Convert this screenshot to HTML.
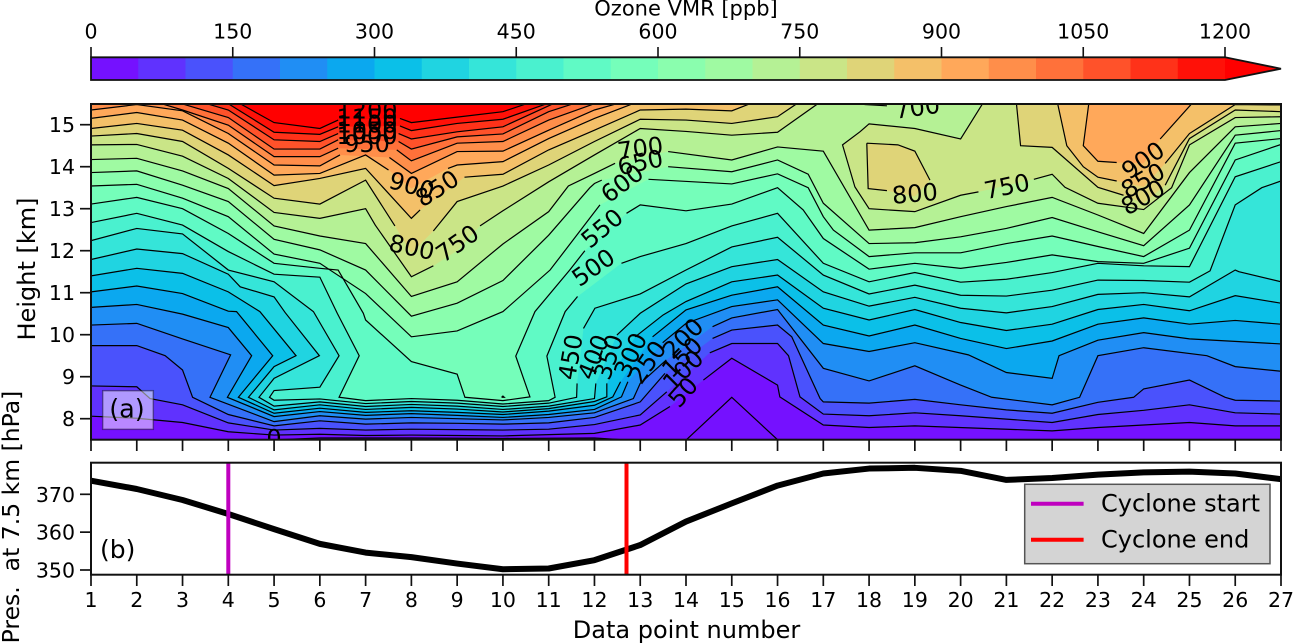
<!DOCTYPE html>
<html lang="en">
<head>
<meta charset="utf-8">
<title>Ozone VMR cross-section</title>
<style>
html,body{margin:0;padding:0;background:#fff;width:1295px;height:644px;overflow:hidden}
svg{display:block;font-family:"DejaVu Sans","Liberation Sans",sans-serif}
</style>
</head>
<body>
<svg id="chart" xmlns="http://www.w3.org/2000/svg" width="1295" height="644" viewBox="0 0 1295 644">
  <defs>
    <clipPath id="clipA"><rect x="91" y="104" width="1190" height="335.7"/></clipPath>
    <clipPath id="clipB"><rect x="91" y="462.7" width="1190" height="112"/></clipPath>
  </defs>
  <g id="colorbar"></g>
  <text x="686" y="15.5" font-size="21" text-anchor="middle">Ozone VMR [ppb]</text>
  <g id="fills" clip-path="url(#clipA)"></g>
  <g id="lines" clip-path="url(#clipA)"></g>
  <g id="clabels" clip-path="url(#clipA)"></g>
  <rect x="91" y="104" width="1190" height="335.7" fill="none" stroke="#111" stroke-width="2"/>
  <g id="axisA"></g>
  <rect x="102.7" y="390.7" width="50.6" height="38.6" fill="#fff" fill-opacity="0.5" stroke="#000" stroke-opacity="0.4" stroke-width="1.5"/>
  <text x="127" y="417.5" font-size="25.5" text-anchor="middle">(a)</text>
  <text transform="translate(35,269) rotate(-90)" font-size="24" text-anchor="middle">Height [km]</text>
  <g id="panelB" clip-path="url(#clipB)"></g>
  <rect x="91" y="462.7" width="1190" height="112" fill="none" stroke="#111" stroke-width="2"/>
  <g id="axisB"></g>
  <text x="100" y="558" font-size="25">(b)</text>
  <text transform="translate(19,517) rotate(-90)" font-size="23.5" text-anchor="middle" xml:space="preserve">Pres.  at 7.5 km [hPa]</text>
  <text x="686.5" y="638" font-size="24" text-anchor="middle">Data point number</text>
  <g>
    <rect x="1024.7" y="484.3" width="245.3" height="79.4" fill="#d4d4d4" stroke="#555" stroke-width="1.5"/>
    <line x1="1031" x2="1083.6" y1="503.7" y2="503.7" stroke="#bf00bf" stroke-width="4"/>
    <text x="1101" y="511.7" font-size="24">Cyclone start</text>
    <line x1="1031" x2="1083.6" y1="539.7" y2="539.7" stroke="#ff0000" stroke-width="4"/>
    <text x="1101" y="547.3" font-size="24">Cyclone end</text>
  </g>
</svg>
<script>
// ---- data: contour curves as [data point, height km]; null = pen-up (label gap) ----
const c0 = [[5.1,7.5],[6,7.54],[8,7.54],[10,7.53],[12,7.54],[12.6,7.5],null,[14.01,7.5],[15,8.51],[16,7.5]];
const c50 = [[1,8.06],[2,8.01],[3,7.91],[4,7.69],[5,7.61],[6,7.63],[7,7.6],[8,7.61],[9,7.6],[10,7.59],[11,7.62],[12,7.65],[13,7.85],[13.65,8.29],null,[14.38,8.92],[15,9.44],[16,8.8],[16.05,8.52],[17,7.85],[18,7.79],[19,7.83],[22,7.71],[23,7.79],[24,7.85],[25,7.91],[26,7.83],[27,7.83]];
const c100 = [[1,8.78],[2,8.76],[2.29,8.48],[3,8.33],[4,7.9],[5,7.73],[6,7.77],[7,7.73],[8,7.75],[9,7.74],[10,7.73],[11,7.75],[12,7.86],[13,8.09],[13.58,8.64],null,[14.52,9.57],[15,9.79],[16,9.79],[16.24,9.5],[16.49,8.52],[17,8.11],[18,8.07],[19,8.14],[20,8.07],[21,7.99],[22,7.91],[23,8.1],[24,8.2],[25,8.33],[26,8.14],[27,8.11]];
const c150 = [[1,9.74],[2,9.74],[2.62,9.5],[3,9.16],[3.22,8.51],[4,8.1],[5,7.83],[6,7.95],[7,7.87],[8,7.9],[9,7.89],[10,7.87],[11,7.9],[12,8.03],[13,8.4],[13.54,9.08],null,[14.58,9.91],[15,10.11],[16,10.23],[16.31,9.95],[16.93,8.48],[17,8.4],[18,8.37],[19,8.46],[20,8.33],[21,8.21],[22,8.13],[23,8.39],[23.78,8.51],[24,8.71],[25,8.92],[25.78,8.51],[26,8.44],[27,8.42]];
const c200 = [[1,10.23],[2,10.27],[3,9.9],[4.05,9.52],[3.6,8.51],[5,7.93],[6,8.07],[7,7.99],[8,8.03],[9,8],[10,7.97],[11,8.03],[12,8.14],[12.85,8.48],[13,8.84],[13.57,9.4],null,[14.58,10.19],[15,10.4],[16,10.6],[17,9.2],[18,8.9],[19,9.26],[20,8.8],[20.68,8.51],[22,8.33],[22.6,8.51],[23,9.5],[24,9.69],[25.38,9.5],[26,9.24],[27,9.13]];
const c250 = [[1,10.65],[2,10.72],[3,10.49],[4,10.17],[4.51,9.5],[3.98,8.51],[5,8.05],[6,8.17],[7,8.08],[8,8.12],[9,8.08],[10,8.03],[11,8.1],[12,8.22],[12.59,8.52],[12.73,8.88],null,[13.49,9.81],[14,10.27],[15,10.67],[16,10.83],[17,9.79],[18,9.6],[19,9.81],[20.17,9.52],[21,9.1],[22,8.96],[22.15,9.5],[23,9.87],[24,10.05],[25,9.9],[27,9.78]];
const c300 = [[1,11.02],[2,11.16],[3,10.98],[4,10.56],[4.18,10.55],[4.97,9.5],[4.22,8.51],[5,8.13],[6,8.25],[7,8.15],[8,8.19],[9,8.15],[10,8.1],[11,8.18],[12,8.32],[12.4,8.52],[12.57,8.88],null,[13.27,9.95],[14,10.59],[15,10.94],[16,11.14],[17,10.23],[18,9.97],[19,10.23],[20,9.91],[21,9.67],[22,9.85],[23,10.25],[24,10.4],[25,10.25],[26,10.34],[27,10.25]];
const c350 = [[1,11.4],[2,11.58],[3,11.46],[4,11.02],[4.69,10.55],[5.48,9.5],[5,9.24],[4.44,8.51],[5,8.21],[6,8.33],[7,8.22],[8,8.27],[9,8.23],[10,8.16],[11,8.24],[12,8.41],[12.27,8.52],[12.27,8.84],null,[12.89,9.95],[13.5,10.47],[14,10.79],[15,11.26],[16,11.42],[17,10.63],[18,10.35],[19,10.6],[20,10.29],[21,10.1],[22,10.25],[23,10.6],[24,10.72],[25,10.57],[26,10.93],[27,10.75]];
const c400 = [[1,11.79],[2,12.04],[3,11.93],[4,11.44],[4.26,11.14],[5,10.9],[5.24,10.53],[5.99,9.5],[5,8.96],[4.67,8.51],[5,8.3],[6,8.4],[7,8.29],[8,8.34],[9,8.3],[10,8.22],[11,8.3],[12,8.48],[12.03,8.84],null,[12.49,9.99],[13,10.51],[14,11.21],[15,11.62],[16,11.79],[17,11.02],[18,10.68],[19,10.89],[20,10.63],[21,10.52],[22,10.67],[23,10.96],[24,11],[25,10.9],[26,11.54],[26.08,11.5],[27,11.26]];
const c450 = [[1,12.24],[2,12.53],[3,12.4],[4,11.54],[5,11.26],[5.86,10.55],[6.42,9.5],[6,8.75],[5,8.67],[4.9,8.51],[5,8.44],[6,8.47],[7,8.36],[8,8.41],[9,8.37],[10,8.29],[11,8.37],[11.61,8.51],[11.62,8.84],null,[11.76,10.15],[12.01,10.63],[13,10.97],[14,11.54],[15,12.09],[16,12.32],[17,11.42],[18,10.97],[19,11.18],[20,10.94],[21,10.92],[22,11.06],[23,11.3],[24,11.29],[25,11.25],[25.45,11.52],[26,13.09],[26.58,13.5],[27,13.66]];
const c500 = [[1,12.67],[2,12.89],[3,12.61],[4,11.98],[5,11.44],[6,11.37],[6.38,10.51],[6.86,9.5],[6.42,8.51],[7,8.43],[8,8.48],[9,8.44],[10,8.35],[11,8.43],[11.14,8.51],[10.96,9.49],[11.36,10.55],[11.63,10.91],null,[12.59,11.7],[13,11.86],[14,12.17],[15,12.59],[16,12.89],[17,11.7],[18,11.26],[19,11.48],[20,11.25],[21,11.32],[22,11.48],[23,11.7],[24,11.64],[25,11.62],[26,13.76],[27,14.12]];
const c550 = [[1,13.11],[2,13.27],[3,13],[4,12.41],[5,11.7],[6,11.58],[6.4,11.54],[6.95,10.51],[7,10.35],[8,9.36],[9,9.06],[9.17,8.51],[10,8.43],[10.59,8.52],[10.28,9.49],[10.7,10.55],[11.46,11.54],[11.79,12],null,[12.7,12.89],[13,13.09],[14,12.95],[15,13.11],[16,13.5],[16.56,12.97],[17,12.29],[18,11.56],[19,11.7],[20,11.58],[21,11.72],[22,11.9],[23,11.74],[24,11.7],[25,12.06],[26,14.16],[27,14.53]];
const c600a = [[1,13.54],[2,13.58],[3,13.25],[4,12.81],[5,11.92],[6,11.7],[7,10.98],[8,9.95],[9,10.09],[10,10.55],[11.03,11.54],[12.12,13.09],null,[13.18,13.7],[15,13.59],[16,13.83],[16.67,13.5],[17,12.81],[17.22,12.49],[18,11.86],[19,11.95],[20,11.95],[21,12.17],[22,12.35],[23,12.1],[24,11.86],[25,12.49],[26,14.56],[27,14.67]];
const c600b = [[9.97,8.51],[10.03,8.51],[10,8.54],[9.97,8.51]];
const c650 = [[1,13.86],[2,13.9],[3,13.56],[4,13.17],[5,12.27],[6,12.02],[7,11.54],[8,10.44],[9,10.75],[10,11.29],[11,12.37],[11.9,13.5],[12,13.6],[12.16,13.68],null,[13.61,14],[15,13.88],[16,14.16],[16.67,13.82],[17,13.13],[18,12.17],[19,12.19],[20,12.33],[21,12.53],[22,12.79],[23,12.45],[24,12.12],[25,13.09],[26,14.75],[27,14.86]];
const c700a = [[1,14.17],[2,14.2],[3,13.9],[4,13.48],[5,12.59],[6,12.35],[7,12.17],[8,10.91],[9,11.26],[10,12.16],[11,12.93],[11.43,13.54],[12,13.84],[12.45,14.08],null,[13.61,14.36],[15,14.16],[16,14.47],[17,14.37],[18,12.49],[19,12.55],[20,12.81],[21,13.05],[22,13.27],[23,12.85],[24,12.41],[25,13.86],[26,14.95],[27,15.03]];
const c700b = [[17.9,15.48],[18.39,15.45]];
const c750a = [[1,14.52],[2,14.53],[3,14.25],[4,13.72],[5,12.91],[6,12.77],[7,13],[7.21,12.61],[8,11.38],[8.48,11.64],null,[9,12],null,[9.5,12.59],[10,12.95],[11,13.64],[12,14.28],[13,14.91],[14,14.84],[15,14.75],[16,14.82],[16.88,15.5]];
const c750b = [[20.48,15.5],[20,14.66],[19,14.91],[18,15.02],[17.8,14.83],[17.42,14.52],[17.69,13.52],[18,13],[19,12.93],[20,13.32],[20.39,13.4],null,[21.6,13.7],[22,13.82],[22.28,13.51],[23,13.13],[24,12.98],[24.61,13.5],[25,14.52],[26,15.17],[27,15.19]];
const c800a = [[1,14.73],[2,14.79],[3,14.6],[4,13.96],[5,13.25],[6,13.11],[7,13.68],[7.64,12.59],null,[8,11.94],null,[8.48,12.47],[9,13.17],[10,13.54],[11,14.04],[12,14.6],[13,15.13],[14,15.11],[15,15.03],[16,15.19],[16.42,15.5]];
const c800b = [[21.22,15.5],[21.31,14.5],[22,14.46],[23,13.51],[23.56,13.32],null,[24,13.13],null,[24.47,13.56],[25,14.67],[26,15.35],[27,15.31]];
const c800c = [[17.95,14.56],[18.63,14.52],[19,14.37],[19.33,13.68],null,[19,13.29],null,[18.39,13.43],[17.98,13.48],[17.95,14.56]];
const c850a = [[1,14.91],[2,15.03],[3,14.87],[4,14.28],[5,13.55],[6,13.72],[7,13.96],[8,12.77],[8.19,12.97],null,[9.16,13.75],[10,13.82],[11,14.4],[12,14.87],[13,15.35],[14,15.37],[15,15.33],[15.4,15.5]];
const c850b = [[22.12,15.5],[22.32,14.5],[22.68,14],[23,13.75],[23.41,13.66],null,[24,13.52],null,[24.47,14.08],[25,14.79],[26,15.48],[27,15.47]];
const c900a = [[1,15.15],[2,15.29],[3,15.11],[4,14.56],[5,13.8],[6,13.84],[7,14.28],[7.5,13.92],null,[8,13.48],null,[8.8,13.96],[9,14.04],[10,14.12],[11,14.67],[12,15.15],[12.84,15.5]];
const c900b = [[22.8,15.5],[22.68,14.5],[23,14.13],[23.41,14.1],null,[24,14.08],null,[24.36,14.66],[25.05,15.5]];
const c950 = [[1,15.35],[2,15.48],[3,15.33],[4,14.79],[5,14.04],[6,14.02],[6.44,14.28],null,[7.52,14.22],[8,13.84],[9,14.36],[10,14.37],[11,14.87],[12,15.35],[12.49,15.5]];
const c1000 = [[2.54,15.5],[3,15.35],[4,14.99],[5,14.24],[6,14.24],[6.4,14.44],null,[7.68,14.4],[8,14.14],[9,14.56],[10,14.6],[11,15.11],[12,15.5]];
const c1050 = [[2.98,15.5],[4,15.17],[5,14.42],[6,14.42],[6.4,14.64],null,[7.72,14.6],[8,14.42],[9,14.71],[10,14.78],[11,15.31],[11.54,15.5]];
const c1100 = [[3.53,15.5],[4,15.35],[5,14.64],[6,14.6],[6.4,14.79],null,[7.72,14.79],[8,14.66],[9,14.83],[10,14.95],[11.1,15.5]];
const c1150 = [[4,15.5],[5,14.82],[6,14.77],[6.4,14.95],null,[7.75,14.97],[8,14.86],[9,15.03],[10,15.13],[10.96,15.5]];
const c1200 = [[4.26,15.5],[5,15.05],[6,14.91],[6.4,15.11],null,[7.75,15.15],[8,15.05],[9,15.18],[10,15.31],[10.52,15.5]];

const fillLevels = [50,100,150,200,250,300,350,400,450,500,550,600,650,700,750,800,850,900,950,1000,1050,1100,1150,1200];
const fillCurves = [[c50],[c100],[c150],[c200],[c250],[c300],[c350],[c400],[c450],[c500],[c550],[c600a,c600b],[c650],[c700a],[c750a,c750b],[c800a,c800b,c800c],[c850a,c850b],[c900a,c900b],[c950],[c1000],[c1050],[c1100],[c1150],[c1200]];
const lineOnlyCurves = [c0,c700b];

const labelTexts = ["1200","1150","1100","1050","1000","950","900","850","800","750","700","650","600","550","500","450","400","350","300","250","200","150","100","50","700","800","750","900","850","800","0"];
const labelX = [7.03,7.03,7.03,7.03,7.03,7.03,8.01,8.56,8.01,9,13,13,12.6,12.16,11.97,11.47,11.97,12.3,12.78,13.15,13.93,13.91,13.93,13.93,19.05,19,21.01,23.98,23.98,23.98,5];
const labelH = [15.35,15.18,15.02,14.87,14.75,14.56,13.56,13.49,12.09,12.18,14.45,14.11,13.61,12.54,11.61,9.47,9.47,9.47,9.52,9.35,9.92,9.47,9.16,8.64,15.42,13.37,13.54,14.16,13.68,13.28,7.54];
const labelAngle = [0,0,0,0,0,0,15,-33,12,-35,-8,-12,-37,-40,-35,-80,-68,-72,-65,-55,-45,-45,-45,-48,-8,-5,-12,-35,-30,-30,0];

const pressure = [373.6,371.4,368.5,364.8,360.8,356.9,354.6,353.4,351.7,350.2,350.4,352.6,356.6,362.8,367.6,372.3,375.5,376.8,377,376.2,373.8,374.3,375.2,375.8,376,375.5,374];
const cycloneStart = 4;
const cycloneEnd = 12.7;
const xTickValues = [1,2,3,4,5,6,7,8,9,10,11,12,13,14,15,16,17,18,19,20,21,22,23,24,25,26,27];
const heightTicks = [8,9,10,11,12,13,14,15];
const pressureTicks = [350,360,370];
const colorbarTicks = [0,150,300,450,600,750,900,1050,1200];
const colorbarBounds = [0,50,100,150,200,250,300,350,400,450,500,550,600,650,700,750,800,850,900,950,1000,1050,1100,1150,1200];

// ---- axis functions ----
const sx = x => 91 + (x - 1) * 1190 / 26;
const sh = h => 124.7 + (15 - h) * 42;
const sp = p => 494.3 - (p - 370) * 3.785;
const cx = v => 91 + v * 0.945;

const NS = 'http://www.w3.org/2000/svg';
function mk(tag, parent) { const e = document.createElementNS(NS, tag); parent.appendChild(e); return e; }
function hex(v) { return Math.round(Math.min(1, Math.max(0, v)) * 255); }
function rainbow(t) {
  return 'rgb(' + hex(Math.abs(2 * t - 0.5)) + ',' + hex(Math.sin(Math.PI * t)) + ',' + hex(Math.cos(Math.PI * t / 2)) + ')';
}
const bandColor = lo => lo >= 1200 ? '#ff0000' : rainbow((lo + 25) / 1200);
const T = 15.5;

// ---- colorbar ----
const cbG = document.getElementById('colorbar');
for (let i = 0; i < colorbarBounds.length - 1; i++) {
  const r = mk('rect', cbG);
  
  
  r.setAttribute('x', cx(colorbarBounds[i]));
  r.setAttribute('y', 57.3);
  r.setAttribute('width', cx(colorbarBounds[i + 1]) - cx(colorbarBounds[i]) + 0.4);
  r.setAttribute('height', 22.7);
  r.setAttribute('fill', bandColor(colorbarBounds[i]));
}
const tri = mk('polygon', cbG);


tri.setAttribute('points', cx(1200) + ',57.3 1281,68.7 ' + cx(1200) + ',80');
tri.setAttribute('fill', '#ff0000');
const cbOut = mk('polygon', cbG);


cbOut.setAttribute('points', '91,57.3 ' + cx(1200) + ',57.3 1281,68.7 ' + cx(1200) + ',80 91,80');
cbOut.setAttribute('fill', 'none');
cbOut.setAttribute('stroke', '#111');
cbOut.setAttribute('stroke-width', '1.8');
colorbarTicks.forEach(v => {
  const l = mk('line', cbG);
  
  
  l.setAttribute('x1', cx(v)); l.setAttribute('x2', cx(v));
  l.setAttribute('y1', 47); l.setAttribute('y2', 57.3);
  l.setAttribute('stroke', '#111'); l.setAttribute('stroke-width', '1.6');
  const t = mk('text', cbG);
  
  
  t.setAttribute('x', cx(v)); t.setAttribute('y', 38.3);
  t.setAttribute('font-size', '20.5'); t.setAttribute('text-anchor', 'middle');
  t.textContent = v;
});

// ---- contour fills (painter's order, each level paints the area above its curve) ----
const fillsG = document.getElementById('fills');
const bg = mk('rect', fillsG);


bg.setAttribute('x', 91); bg.setAttribute('y', 104);
bg.setAttribute('width', 1190); bg.setAttribute('height', 336);
bg.setAttribute('fill', bandColor(0));
function fillPath(c) {
  const pts = c.filter(p => p);
  const first = pts[0], last = pts[pts.length - 1];
  const closed = first[0] === last[0] && first[1] === last[1];
  const ring = pts.slice();
  if (!closed) {
    if (last[0] === 27) ring.push([27, T]);
    if (first[0] === 1) ring.push([1, T]);
  }
  return 'M' + ring.map(p => sx(p[0]).toFixed(2) + ' ' + sh(p[1]).toFixed(2)).join('L') + 'Z';
}
function linePath(c) {
  let d = '', pen = false;
  c.forEach(p => {
    if (!p) { pen = false; return; }
    d += (pen ? 'L' : 'M') + sx(p[0]).toFixed(2) + ' ' + sh(p[1]).toFixed(2);
    pen = true;
  });
  return d;
}
const linesG = document.getElementById('lines');
function strokeCurve(c) {
  const l = mk('path', linesG);
  
  
  l.setAttribute('d', linePath(c));
  l.setAttribute('fill', 'none');
  l.setAttribute('stroke', '#000');
  l.setAttribute('stroke-width', '1.2');
  l.setAttribute('stroke-linejoin', 'miter');
}
fillLevels.forEach((lev, i) => {
  fillCurves[i].forEach(c => {
    const f = mk('path', fillsG);
    
    
    f.setAttribute('d', fillPath(c));
    f.setAttribute('fill', bandColor(lev));
    strokeCurve(c);
  });
});
lineOnlyCurves.forEach(strokeCurve);

// ---- contour labels ----
const labG = document.getElementById('clabels');
labelTexts.forEach((s, i) => {
  const t = mk('text', labG);
  
  
  t.setAttribute('font-size', '24');
  t.setAttribute('text-anchor', 'middle');
  t.setAttribute('transform', 'translate(' + sx(labelX[i]) + ',' + sh(labelH[i]) + ') rotate(' + labelAngle[i] + ')');
  t.setAttribute('y', '8.7');
  t.textContent = s;
});

// ---- axes ----
const axA = document.getElementById('axisA');
xTickValues.forEach(v => {
  const l = mk('line', axA);
  
  
  l.setAttribute('x1', sx(v)); l.setAttribute('x2', sx(v));
  l.setAttribute('y1', 439.7); l.setAttribute('y2', 451);
  l.setAttribute('stroke', '#111'); l.setAttribute('stroke-width', '1.7');
});
heightTicks.forEach(v => {
  const l = mk('line', axA);
  
  
  l.setAttribute('x1', 80); l.setAttribute('x2', 91);
  l.setAttribute('y1', sh(v)); l.setAttribute('y2', sh(v));
  l.setAttribute('stroke', '#111'); l.setAttribute('stroke-width', '1.7');
  const t = mk('text', axA);
  
  
  t.setAttribute('x', 75); t.setAttribute('y', sh(v) + 7.5);
  t.setAttribute('font-size', '20.5'); t.setAttribute('text-anchor', 'end');
  t.textContent = v;
});
const axB = document.getElementById('axisB');
xTickValues.forEach(v => {
  const l = mk('line', axB);
  
  
  l.setAttribute('x1', sx(v)); l.setAttribute('x2', sx(v));
  l.setAttribute('y1', 574.7); l.setAttribute('y2', 586);
  l.setAttribute('stroke', '#111'); l.setAttribute('stroke-width', '1.7');
  const t = mk('text', axB);
  
  
  t.setAttribute('x', sx(v)); t.setAttribute('y', 607);
  t.setAttribute('font-size', '20.5'); t.setAttribute('text-anchor', 'middle');
  t.textContent = v;
});
pressureTicks.forEach(v => {
  const l = mk('line', axB);
  
  
  l.setAttribute('x1', 80); l.setAttribute('x2', 91);
  l.setAttribute('y1', sp(v)); l.setAttribute('y2', sp(v));
  l.setAttribute('stroke', '#111'); l.setAttribute('stroke-width', '1.7');
  const t = mk('text', axB);
  
  
  t.setAttribute('x', 75); t.setAttribute('y', sp(v) + 7.5);
  t.setAttribute('font-size', '20.5'); t.setAttribute('text-anchor', 'end');
  t.textContent = v;
});

// ---- pressure panel ----
const pb = document.getElementById('panelB');
const pLine = mk('path', pb);


pLine.setAttribute('d', 'M' + pressure.map((p, i) => sx(xTickValues[i]).toFixed(2) + ' ' + sp(p).toFixed(2)).join('L'));
pLine.setAttribute('fill', 'none');
pLine.setAttribute('stroke', '#000');
pLine.setAttribute('stroke-width', '6');
pLine.setAttribute('stroke-linejoin', 'round');
const vs = mk('line', pb);


vs.setAttribute('x1', sx(cycloneStart)); vs.setAttribute('x2', sx(cycloneStart));
vs.setAttribute('y1', 462); vs.setAttribute('y2', 575);
vs.setAttribute('stroke', '#bf00bf'); vs.setAttribute('stroke-width', '4');
const ve = mk('line', pb);


ve.setAttribute('x1', sx(cycloneEnd)); ve.setAttribute('x2', sx(cycloneEnd));
ve.setAttribute('y1', 462); ve.setAttribute('y2', 575);
ve.setAttribute('stroke', '#ff0000'); ve.setAttribute('stroke-width', '4');
</script>
</body>
</html>
